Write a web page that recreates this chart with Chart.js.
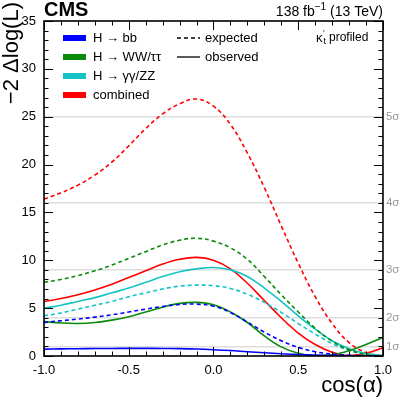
<!DOCTYPE html>
<html>
<head>
<meta charset="utf-8">
<script src="https://cdn.jsdelivr.net/npm/chart.js@4.4.1/dist/chart.umd.min.js"></script>
<style>
  html, body { margin: 0; padding: 0; background: #fff; }
</style>
</head>
<body>
<canvas id="grafica" width="399" height="399"></canvas>
<script>
// eje x: cos(alpha)
const cosAlpha = [-1.0, -0.9, -0.8, -0.7, -0.6, -0.5, -0.4, -0.3, -0.2, -0.1, 0.0,
                  0.1, 0.2, 0.3, 0.4, 0.5, 0.6, 0.7, 0.8, 0.9, 1.0];

// -2 dlogL, observado y esperado por canal
const bbObs   = [0.72, 0.74, 0.76, 0.78, 0.79, 0.80, 0.80, 0.79, 0.77, 0.73, 0.66,
                 0.57, 0.45, 0.34, 0.24, 0.15, 0.09, 0.05, 0.02, 0.01, 0.0];
const bbExp   = [3.5, 3.68, 3.86, 4.06, 4.3, 4.6, 4.9, 5.18, 5.38, 5.42, 5.2,
                 4.55, 3.55, 2.5, 1.6, 0.9, 0.45, 0.2, 0.08, 0.02, 0.0];
const wwObs   = [3.6, 3.45, 3.4, 3.5, 3.75, 4.1, 4.6, 5.1, 5.5, 5.6, 5.35,
                 4.6, 3.5, 2.1, 0.95, 0.28, 0.02, 0.12, 0.55, 1.2, 1.95];
const wwExp   = [7.7, 8.0, 8.4, 8.9, 9.5, 10.2, 10.9, 11.6, 12.1, 12.3, 12.0,
                 11.3, 10.1, 8.3, 6.4, 4.6, 2.9, 1.55, 0.65, 0.15, 0.0];
const ggObs   = [5.0, 5.3, 5.7, 6.1, 6.6, 7.1, 7.7, 8.3, 8.8, 9.1, 9.25,
                 9.0, 8.3, 7.1, 5.7, 4.2, 2.8, 1.6, 0.75, 0.25, 0.05];
const ggExp   = [4.2, 4.5, 4.9, 5.3, 5.7, 6.2, 6.6, 7.0, 7.3, 7.4, 7.35,
                 7.05, 6.45, 5.6, 4.55, 3.4, 2.3, 1.3, 0.6, 0.15, 0.0];
const combObs = [5.7, 6.0, 6.4, 6.9, 7.5, 8.2, 8.9, 9.6, 10.1, 10.3, 10.0,
                 9.1, 7.6, 5.8, 4.0, 2.4, 1.2, 0.4, 0.05, 0.3, 0.85];
const combExp = [16.4, 17.05, 17.85, 18.9, 20.25, 21.95, 23.75, 25.3, 26.35, 26.85, 26.1,
                 24.2, 21.2, 17.6, 13.6, 9.7, 6.2, 3.4, 1.4, 0.35, 0.0];

const canales = ['H → bb', 'H → WW/ττ', 'H → γγ/ZZ', 'combined'];
const colores = ['#0000ff', '#0a8a0a', '#14c4c4', '#ff0000'];
const observados = [bbObs, wwObs, ggObs, combObs];
const esperados = [bbExp, wwExp, ggExp, combExp];

// niveles de significancia
const sigmaNiveles = [1, 4, 9, 16, 25];
const sigmaEtiquetas = ['1σ', '2σ', '3σ', '4σ', '5σ'];

const fuente = 'Liberation Sans, Arial, Helvetica, sans-serif';

const puntos = (arr) => arr.map((v, i) => ({ x: cosAlpha[i], y: v }));

let datasets = [];
canales.forEach((c, i) => {
    datasets.push({
        label: c + ' expected',
        data: puntos(esperados[i]),
        borderColor: colores[i],
        borderWidth: 1.6,
        borderDash: [4, 3],
        pointRadius: 0,
        tension: 0.4,
        fill: false
    });
    datasets.push({
        label: c + ' observed',
        data: puntos(observados[i]),
        borderColor: colores[i],
        borderWidth: 1.6,
        pointRadius: 0,
        tension: 0.4,
        fill: false
    });
});

// marco, ticks interiores, leyenda y textos
const marcoPlugin = {
    id: 'marco',
    afterDatasetsDraw(chart) {
        const ctx = chart.ctx;
        const a = chart.chartArea;
        const sx = chart.scales.x, sy = chart.scales.y;
        ctx.save();
        ctx.strokeStyle = '#000';
        ctx.lineWidth = 1;
        ctx.beginPath();
        for (let i = -10; i <= 10; i++) {
            const px = Math.round(sx.getPixelForValue(i / 10)) + 0.5;
            const len = i % 5 === 0 ? 9 : 4.5;
            ctx.moveTo(px, a.bottom); ctx.lineTo(px, a.bottom - len);
            ctx.moveTo(px, a.top); ctx.lineTo(px, a.top + len);
        }
        for (let i = 0; i <= 35; i++) {
            const py = Math.round(sy.getPixelForValue(i)) + 0.5;
            const len = i % 5 === 0 ? 9 : 4.5;
            ctx.moveTo(a.left, py); ctx.lineTo(a.left + len, py);
            ctx.moveTo(a.right, py); ctx.lineTo(a.right - len, py);
        }
        ctx.stroke();
        ctx.lineWidth = 1.6;
        ctx.strokeRect(a.left, a.top, a.right - a.left, a.bottom - a.top);

        // leyenda
        ctx.textBaseline = 'middle';
        ctx.textAlign = 'left';
        ctx.font = '13px ' + fuente;
        canales.forEach((c, i) => {
            const y = 38 + i * 19;
            ctx.fillStyle = colores[i];
            ctx.fillRect(63, y - 3, 23, 6);
            ctx.fillStyle = '#000';
            ctx.fillText(c, 93, y);
        });
        ctx.strokeStyle = '#000';
        ctx.lineWidth = 1.3;
        ctx.setLineDash([4, 3]);
        ctx.beginPath(); ctx.moveTo(177, 38); ctx.lineTo(200, 38); ctx.stroke();
        ctx.setLineDash([]);
        ctx.beginPath(); ctx.moveTo(177, 57); ctx.lineTo(200, 57); ctx.stroke();
        ctx.fillText('expected', 205, 38);
        ctx.fillText('observed', 205, 57);

        // kappa'_t profiled
        let x0 = 316;
        ctx.font = '13px ' + fuente;
        ctx.fillText('κ', x0, 38);
        x0 += ctx.measureText('κ').width + 0.5;
        ctx.font = '9px ' + fuente;
        ctx.fillText('′', x0, 34);
        ctx.fillText('t', x0 + 0.5, 42);
        x0 += 6;
        ctx.font = '12px ' + fuente;
        ctx.fillText('profiled', x0, 38);

        // CMS y luminosidad
        ctx.textBaseline = 'alphabetic';
        ctx.font = 'bold 20px ' + fuente;
        ctx.fillText('CMS', 44, 16);
        const p1 = '138 fb', p2 = '−1', p3 = ' (13 TeV)';
        ctx.font = '14px ' + fuente;
        const w1 = ctx.measureText(p1).width, w3 = ctx.measureText(p3).width;
        ctx.font = '10px ' + fuente;
        const w2 = ctx.measureText(p2).width;
        let xs = a.right - (w1 + w2 + w3);
        ctx.font = '14px ' + fuente;
        ctx.fillText(p1, xs, 16);
        ctx.font = '10px ' + fuente;
        ctx.fillText(p2, xs + w1, 10);
        ctx.font = '14px ' + fuente;
        ctx.fillText(p3, xs + w1 + w2, 16);

        // titulos de ejes
        ctx.font = '22px ' + fuente;
        ctx.textAlign = 'right';
        ctx.fillText('cos(α)', a.right, 392);
        ctx.translate(18, 2);
        ctx.rotate(-Math.PI / 2);
        ctx.fillText('−2 Δlog(L)', 0, 0);
        ctx.restore();
    }
};

const $grafica = document.getElementById('grafica');
new Chart($grafica, {
    type: 'line',
    data: { datasets: datasets },
    options: {
        responsive: false,
        animation: false,
        events: [],
        layout: { padding: { top: 21, left: 0, right: 0, bottom: 0 } },
        plugins: { legend: { display: false }, tooltip: { enabled: false } },
        scales: {
            x: {
                type: 'linear',
                min: -1, max: 1,
                grid: { display: false, drawTicks: false },
                border: { display: false },
                afterFit: (s) => { s.height = 43; },
                ticks: {
                    stepSize: 0.5,
                    padding: 7,
                    color: '#000',
                    font: { family: fuente, size: 13 },
                    maxRotation: 0,
                    callback: (v) => Number(v).toFixed(1)
                }
            },
            y: {
                min: 0, max: 35,
                position: 'left',
                grid: { display: false, drawTicks: false },
                border: { display: false },
                afterFit: (s) => { s.width = 44; },
                ticks: {
                    stepSize: 5,
                    padding: 8,
                    color: '#000',
                    font: { family: fuente, size: 13 }
                }
            },
            y2: {
                min: 0, max: 35,
                position: 'right',
                border: { display: false },
                afterFit: (s) => { s.width = 16; },
                afterBuildTicks: (s) => { s.ticks = sigmaNiveles.map(v => ({ value: v })); },
                grid: { color: '#dddddd', lineWidth: 1.5, drawTicks: false },
                ticks: {
                    padding: 3,
                    color: '#999999',
                    font: { family: fuente, size: 11.5 },
                    callback: (v, i) => sigmaEtiquetas[i]
                }
            }
        }
    },
    plugins: [marcoPlugin]
});
</script>
</body>
</html>
